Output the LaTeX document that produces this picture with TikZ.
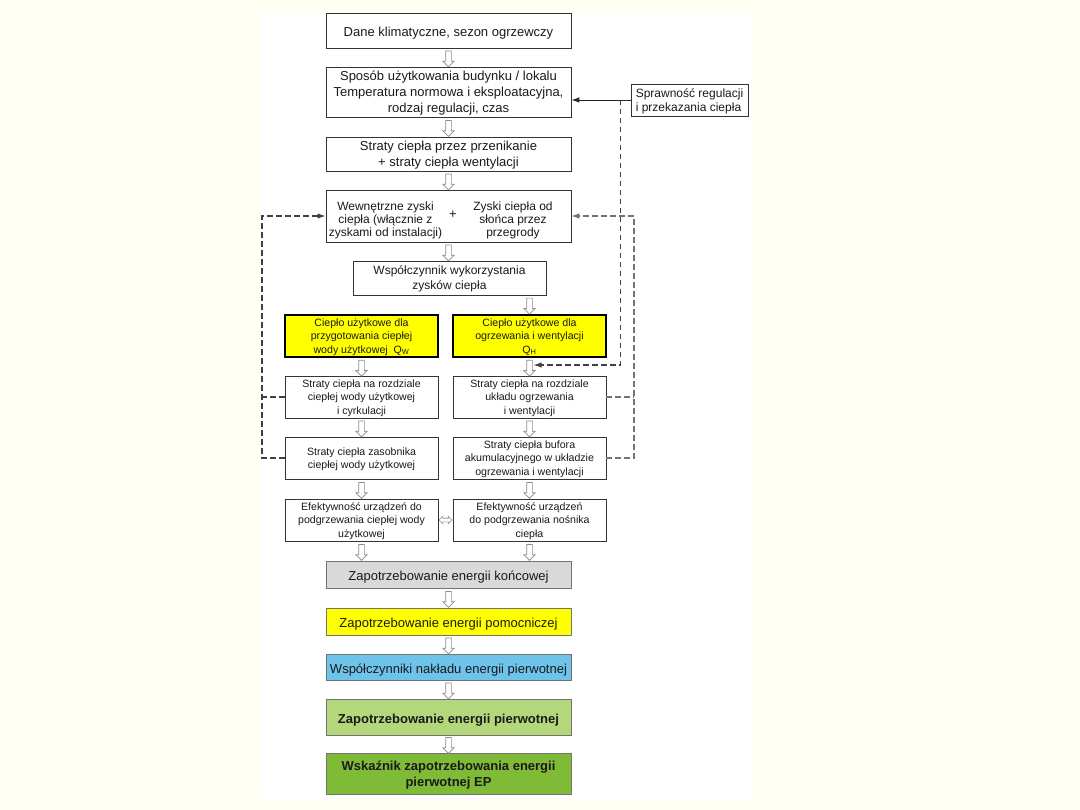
\documentclass[tikz,border=0pt]{standalone}
\usepackage{fontspec}
\setmainfont{Liberation Sans}
\usetikzlibrary{calc,shapes.arrows,arrows.meta}
\definecolor{bgCream}{HTML}{FFFFF4}
\definecolor{boxText}{HTML}{1A1A1A}
\definecolor{yellowBox}{HTML}{FFFF00}
\definecolor{greyBox}{HTML}{D9D9D9}
\definecolor{blueBox}{HTML}{6EC3EB}
\definecolor{lightGreen}{HTML}{B4D77C}
\definecolor{darkGreen}{HTML}{7FBB36}

\begin{document}
\begin{tikzpicture}[x=1pt, y=-1pt, text=boxText,
  box/.style={draw=black!80, line width=0.8pt, fill=white, align=center, inner sep=1pt},
  one/.style={execute at begin node={\rule{0pt}{1.2em}}},
  ml/.style={text depth=-3.5pt},
  big/.style={box, minimum width=245, font=\fontsize{13}{16}\selectfont},
  small/.style={box, ml, minimum width=153, minimum height=42, font=\fontsize{10.6}{13.3}\selectfont},
  yel/.style={small, draw=black, line width=2pt, fill=yellowBox},
  low/.style={big, draw=black!55},
  harr/.style={single arrow, draw=black!45, fill=white, line width=0.7pt, shape border rotate=270,
    inner sep=2.5pt, minimum height=16, single arrow head extend=2.8, single arrow head indent=0},
  fb/.style={dash pattern=on 5.5pt off 3.5pt, line width=1.1pt, draw=black!75},
  tip/.style={-{Latex[length=8pt,width=5.5pt]}}]
  % page
  \useasboundingbox (0,0) rectangle (1080,810);
  \fill[bgCream] (0,0) rectangle (1080,810);
  \fill[white] (260,13) rectangle (752,799);
  % top column
  \node[big, one, minimum height=35] (dane) at (448.5,30.5) {Dane klimatyczne, sezon ogrzewczy};
  \node[big, ml, minimum height=50] (sposob) at (448.5,92) {Sposób użytkowania budynku / lokalu\\Temperatura normowa i eksploatacyjna,\\rodzaj regulacji, czas};
  \node[box, ml, minimum width=117, minimum height=32, align=left, font=\fontsize{12}{14}\selectfont] (spr) at (689.5,100) {Sprawność regulacji\\i przekazania ciepła};
  \node[big, ml, minimum height=34] (straty) at (448.5,154) {Straty ciepła przez przenikanie\\+ straty ciepła wentylacji};
  \node[big, minimum height=52] (zyski) at (448.5,216) {};
  \node[align=center, font=\fontsize{12}{13}\selectfont] (zwew) at (385.5,220) {Wewnętrzne zyski\\ciepła (włącznie z\\zyskami od instalacji)};
  \node[font=\fontsize{13}{13}\selectfont] (plus) at (453,215) {+};
  \node[align=center, font=\fontsize{12}{13}\selectfont] (zslo) at (513,220) {Zyski ciepła od\\słońca przez\\przegrody};
  \node[box, ml, minimum width=193, minimum height=34, font=\fontsize{12}{15}\selectfont] (wspol) at (449.5,278) {Współczynnik wykorzystania\\zysków ciepła};
  % two columns
  \node[yel] (qw) at (361.5,336) {Ciepło użytkowe dla\\przygotowania ciepłej\\wody użytkowej\ \ Q\textsubscript{W}};
  \node[yel] (qh) at (529.5,336) {Ciepło użytkowe dla\\ogrzewania i wentylacji\\Q\textsubscript{H}};
  \node[small] (lrozd) at (361.5,397) {Straty ciepła na rozdziale\\ciepłej wody użytkowej\\i cyrkulacji};
  \node[small] (rrozd) at (529.5,397) {Straty ciepła na rozdziale\\układu ogrzewania\\i wentylacji};
  \node[small] (lzas) at (361.5,458) {Straty ciepła zasobnika\\ciepłej wody użytkowej};
  \node[small] (rbuf) at (529.5,458) {Straty ciepła bufora\\akumulacyjnego w układzie\\ogrzewania i wentylacji};
  \node[small] (lef) at (361.5,520) {Efektywność urządzeń do\\podgrzewania ciepłej wody\\użytkowej};
  \node[small] (ref) at (529.5,520) {Efektywność urządzeń\\do podgrzewania nośnika\\ciepła};
  % bottom column
  \node[low, one, minimum height=27, fill=greyBox] (konc) at (448.5,574.5) {Zapotrzebowanie energii końcowej};
  \node[low, one, minimum height=27, fill=yellowBox] (pomoc) at (448.5,621.5) {Zapotrzebowanie energii pomocniczej};
  \node[low, one, minimum height=26, fill=blueBox] (wspn) at (448.5,667) {Współczynniki nakładu energii pierwotnej};
  \node[low, one, minimum height=36, fill=lightGreen, font=\fontsize{13}{16}\selectfont\bfseries] (pierw) at (448.5,717) {Zapotrzebowanie energii pierwotnej};
  \node[low, ml, minimum height=41, fill=darkGreen, font=\fontsize{13}{16}\selectfont\bfseries] (ep) at (448.5,773.5) {Wskaźnik zapotrzebowania energii\\pierwotnej EP};
  % hollow arrows
  \foreach \a/\b [count=\i] in {dane/sposob, sposob/straty, straty/zyski, zyski/wspol,
      qw/lrozd, lrozd/lzas, lzas/lef, lef/konc, qh/rrozd, rrozd/rbuf, rbuf/ref, ref/konc,
      konc/pomoc, pomoc/wspn, wspn/pierw, pierw/ep}
    \node[harr] (ha\i) at ($(\a.south)!0.5!(\a.south |- \b.north)$) {};
  \node[harr] (haqh) at ($(qh.north |- wspol.south)!0.5!(qh.north)$) {};
  \node[double arrow, draw=black!45, fill=white, line width=0.6pt, inner sep=1.5pt,
    minimum height=13, double arrow head extend=2, double arrow head indent=0] (dbl) at ($(lef.east)!0.5!(ref.west)$) {};
  % feedback lines
  \draw[tip, line width=0.9pt, black!85] (spr.west) -- (spr.west -| sposob.east);
  \coordinate (br) at ($(spr.west)+(-10,0)$);
  \coordinate (qhin) at ($(qh.south)+(4,7)$);
  \draw[fb, tip] (br) |- (qhin);
  \coordinate (lbus) at (262,0);
  \draw[fb, tip] (lzas.west) -- (lzas.west -| lbus) |- (zyski.west);
  \draw[fb] (lrozd.west) -- (lrozd.west -| lbus);
  \coordinate (rbus) at (634,0);
  \draw[fb, tip, draw=black!55] (rbuf.east) -- (rbuf.east -| rbus) |- (zyski.east);
  \draw[fb, draw=black!55] (rrozd.east) -- (rrozd.east -| rbus);
\end{tikzpicture}
\end{document}
